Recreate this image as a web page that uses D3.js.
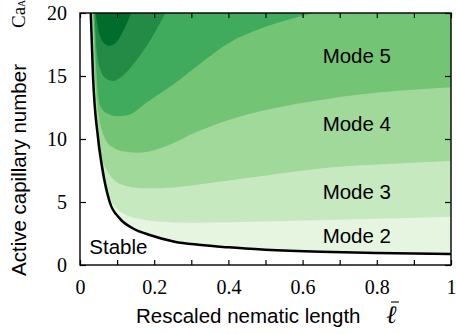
<!DOCTYPE html>
<html>
<head>
<meta charset="utf-8">
<script src="https://cdn.jsdelivr.net/npm/d3@7"></script>
<style>
  body { margin: 0; background: #fff; }
  .tick text { font-family: "Liberation Serif", serif; font-size: 20px; fill: #000; }
  .tick line { stroke: #000; stroke-width: 1.2; }
  .lbl { font-family: "Liberation Sans", Arial, sans-serif; font-size: 20.5px; fill: #000; }
</style>
</head>
<body>
<svg width="456" height="334"></svg>
<script>
// boundary curves: [rescaled nematic length, active capillary number]
const stableEdge = [[0.029,20],[0.035,15],[0.049,10],[0.060,7.7],[0.080,5.0],[0.107,3.7],[0.143,2.9],[0.188,2.38],[0.255,1.85],[0.32,1.6],[0.4,1.4],[0.5,1.22],[0.65,1.05],[0.8,0.95],[1.0,0.87]];
const edge23 = [[0.031,20],[0.036,15],[0.043,11],[0.054,8],[0.068,6],[0.088,4.9],[0.115,4.1],[0.16,3.65],[0.2,3.48],[0.31,3.36],[0.5,3.45],[0.66,3.57],[1,3.83]];
const edge34 = [[0.033,20],[0.038,15],[0.047,10.8],[0.058,8.6],[0.071,7.6],[0.09,6.8],[0.12,6.3],[0.16,6.1],[0.22,6.1],[0.31,6.35],[0.45,6.9],[0.66,7.7],[0.85,8.05],[1,8.25]];
const edge45 = [[0.035,20],[0.041,15],[0.05,12],[0.065,10.2],[0.085,9.4],[0.12,9.0],[0.16,8.9],[0.22,9.3],[0.31,10.5],[0.4,11.5],[0.5,12.3],[0.67,13.2],[0.85,13.8],[1,14.1]];
const edge56 = [[0.037,20],[0.043,16],[0.049,13.5],[0.057,12.5],[0.075,12.0],[0.1,11.8],[0.13,11.9],[0.18,12.9],[0.25,14.3],[0.32,15.9],[0.4,17.6],[0.5,18.9],[0.63,20]];
const edge67 = [[0.039,20],[0.045,17],[0.055,15.5],[0.07,14.8],[0.089,14.6],[0.11,14.9],[0.14,15.8],[0.18,17.4],[0.23,20]];
const edge78 = [[0.042,20],[0.05,18.6],[0.062,17.7],[0.078,17.4],[0.095,17.6],[0.115,18.5],[0.138,20]];

const modeNames = ["Mode 2", "Mode 3", "Mode 4", "Mode 5"];
const xTickValues = [0, 0.1, 0.2, 0.3, 0.4, 0.5, 0.6, 0.7, 0.8, 0.9, 1];
const xTickLabels = ["0", "", "0.2", "", "0.4", "", "0.6", "", "0.8", "", "1"];
const yTickValues = [0, 5, 10, 15, 20];

const fills = ["#e5f5e0", "#c7e9c0", "#a1d99b", "#74c476", "#41ab5d", "#238b45", "#006d2c"];

const svg = d3.select("svg");
const x = d3.scaleLinear().domain([0, 1]).range([80, 451]);
const y = d3.scaleLinear().domain([0, 20]).range([265, 13]);

svg.append("clipPath").attr("id", "plot")
  .append("rect")
  .attr("x", x(0)).attr("y", y(20))
  .attr("width", x(1) - x(0)).attr("height", y(0) - y(20));

const area = d3.area()
  .x(d => x(d[0]))
  .y0(d => y(d[1]))
  .y1(y(20))
  .curve(d3.curveMonotoneX);

const bands = svg.append("g").attr("clip-path", "url(#plot)");
[stableEdge, edge23, edge34, edge45, edge56, edge67, edge78].forEach((edge, i) => {
  bands.append("path")
    .attr("d", area(edge))
    .attr("fill", fills[i]);
});

bands.append("path")
  .attr("d", d3.line().x(d => x(d[0])).y(d => y(d[1])).curve(d3.curveMonotoneX)(stableEdge))
  .attr("fill", "none")
  .attr("stroke", "#000")
  .attr("stroke-width", 2.5);

// axes, ticks pointing inward
svg.append("g")
  .attr("transform", "translate(0," + y(0) + ")")
  .call(d3.axisBottom(x).tickValues(xTickValues).tickSizeInner(-5).tickSizeOuter(0).tickPadding(15)
    .tickFormat((d, i) => xTickLabels[i]))
  .call(g => g.select(".domain").remove());

svg.append("g")
  .attr("transform", "translate(0," + y(20) + ")")
  .call(d3.axisTop(x).tickValues(xTickValues).tickSizeInner(-5).tickSizeOuter(0).tickFormat(""))
  .call(g => g.select(".domain").remove());

svg.append("g")
  .attr("transform", "translate(" + x(0) + ",0)")
  .call(d3.axisLeft(y).tickValues(yTickValues).tickSizeInner(-6).tickSizeOuter(0).tickPadding(13))
  .call(g => g.select(".domain").remove());

svg.append("g")
  .attr("transform", "translate(" + x(1) + ",0)")
  .call(d3.axisRight(y).tickValues(yTickValues).tickSizeInner(-6).tickSizeOuter(0).tickFormat(""))
  .call(g => g.select(".domain").remove());

svg.append("rect")
  .attr("x", x(0)).attr("y", y(20))
  .attr("width", x(1) - x(0)).attr("height", y(0) - y(20))
  .attr("fill", "none").attr("stroke", "#000").attr("stroke-width", 1.4);

// region labels
const labelAt = [[0.654, 1.75], [0.654, 5.2], [0.654, 10.6], [0.654, 16.0]];
modeNames.forEach((name, i) => {
  svg.append("text").attr("class", "lbl")
    .attr("x", x(labelAt[i][0])).attr("y", y(labelAt[i][1]))
    .text(name);
});
svg.append("text").attr("class", "lbl")
  .attr("x", x(0.025)).attr("y", y(0.9))
  .text("Stable");

// axis titles
svg.append("text").attr("class", "lbl")
  .attr("x", 136).attr("y", 323)
  .text("Rescaled nematic length");

const ell = svg.append("text")
  .attr("x", 386).attr("y", 323)
  .attr("font-family", "Liberation Serif, serif")
  .attr("font-style", "italic")
  .attr("font-size", 25)
  .text("\u2113");
const eb = ell.node().getBBox();
svg.append("line")
  .attr("x1", eb.x + eb.width * 0.45).attr("x2", eb.x + eb.width * 0.45 + 8)
  .attr("y1", 302).attr("y2", 302)
  .attr("stroke", "#000").attr("stroke-width", 1.1);

svg.append("text").attr("class", "lbl")
  .attr("transform", "translate(26,170) rotate(-90)")
  .attr("text-anchor", "middle")
  .text("Active capillary number");

const caG = svg.append("g").attr("transform", "translate(25,28) rotate(-90)");
const ca = caG.append("text")
  .attr("x", 0).attr("y", 0)
  .attr("font-family", "Liberation Serif, serif")
  .attr("font-size", 19);
ca.append("tspan").text("Ca");
ca.append("tspan").attr("font-size", 10).text("A");
</script>
</body>
</html>
